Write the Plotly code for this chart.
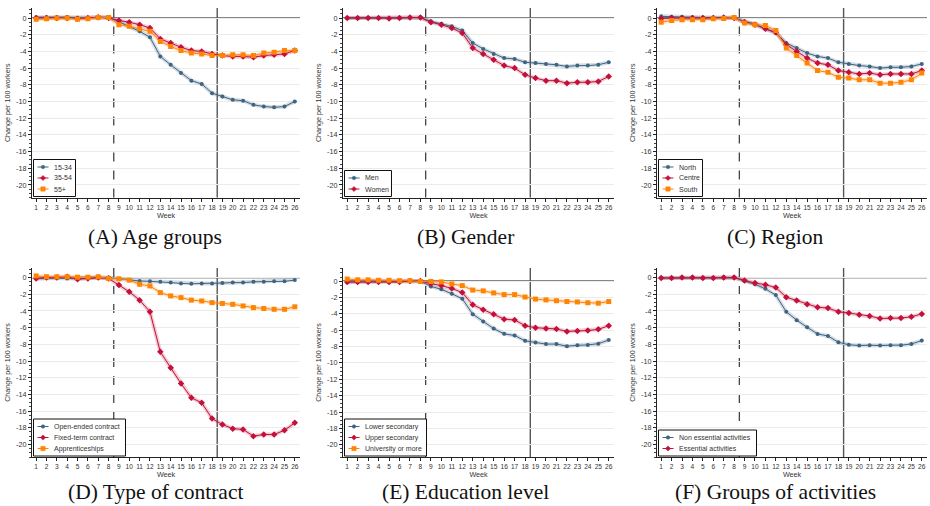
import plotly.graph_objects as go

weeks = list(range(1, 27))

# (A) Age groups
age_15_34 = [0.1, 0.1, 0.1, 0.1, 0.0, 0.0, 0.1, 0.1, -0.45, -1.0, -1.6, -2.3, -4.6, -5.6, -6.6, -7.5, -7.9, -9.0, -9.4, -9.8, -9.9, -10.4, -10.6, -10.7, -10.6, -10.0]
age_35_54 = [0.0, 0.0, 0.0, 0.0, -0.1, 0.0, 0.1, 0.0, -0.3, -0.5, -0.8, -1.2, -2.5, -3.0, -3.5, -3.9, -4.0, -4.3, -4.5, -4.6, -4.6, -4.7, -4.5, -4.4, -4.3, -3.9]
age_55p = [-0.15, -0.1, 0.0, 0.0, -0.15, -0.1, 0.05, 0.05, -0.8, -1.0, -1.3, -1.6, -2.8, -3.4, -3.9, -4.2, -4.3, -4.5, -4.5, -4.4, -4.4, -4.5, -4.2, -4.1, -3.9, -3.9]

# (B) Gender
men = [0.0, 0.0, 0.0, 0.0, -0.05, 0.0, 0.05, 0.05, -0.4, -0.7, -1.0, -1.5, -3.0, -3.7, -4.3, -4.8, -4.9, -5.3, -5.4, -5.5, -5.6, -5.8, -5.7, -5.7, -5.6, -5.3]
women = [0.0, 0.0, 0.0, 0.0, -0.05, 0.0, 0.05, 0.05, -0.5, -0.8, -1.2, -1.8, -3.6, -4.3, -5.0, -5.7, -6.0, -6.8, -7.2, -7.5, -7.5, -7.8, -7.7, -7.7, -7.6, -7.0]

# (C) Region
north = [0.2, 0.15, 0.15, 0.1, 0.05, 0.05, 0.05, 0.05, -0.4, -0.7, -1.3, -1.8, -3.0, -3.6, -4.2, -4.6, -4.8, -5.3, -5.5, -5.7, -5.8, -6.0, -5.9, -5.9, -5.8, -5.5]
centre = [-0.05, 0.0, 0.0, 0.0, 0.0, 0.0, 0.05, 0.0, -0.5, -0.8, -1.3, -1.7, -3.2, -4.0, -4.8, -5.4, -5.6, -6.3, -6.5, -6.7, -6.6, -6.8, -6.7, -6.7, -6.7, -6.3]
south = [-0.5, -0.3, -0.2, -0.2, -0.2, -0.1, -0.05, 0.05, -0.6, -0.8, -0.9, -1.5, -3.6, -4.5, -5.4, -6.3, -6.5, -7.1, -7.2, -7.4, -7.4, -7.8, -7.8, -7.7, -7.4, -6.6]

# (D) Type of contract
open_ended = [-0.1, -0.05, -0.05, -0.1, -0.1, -0.1, 0.0, 0.0, -0.15, -0.3, -0.4, -0.45, -0.5, -0.6, -0.7, -0.75, -0.7, -0.7, -0.65, -0.6, -0.6, -0.5, -0.5, -0.45, -0.45, -0.3]
fixed_term = [-0.1, 0.0, 0.0, 0.1, -0.2, -0.1, 0.0, -0.1, -0.9, -1.7, -2.7, -4.1, -8.9, -10.8, -12.7, -14.4, -15.0, -16.9, -17.6, -18.1, -18.2, -19.0, -18.8, -18.8, -18.3, -17.4]
apprentices = [0.2, 0.1, 0.1, 0.1, 0.05, 0.05, 0.1, -0.1, -0.15, -0.3, -0.8, -1.0, -1.8, -2.2, -2.4, -2.7, -2.8, -3.0, -3.1, -3.2, -3.4, -3.6, -3.7, -3.8, -3.8, -3.5]

# (E) Education level
lower_sec = [-0.1, -0.1, -0.1, -0.1, -0.1, -0.1, 0.0, 0.0, -0.65, -1.0, -1.55, -2.15, -4.05, -4.95, -5.8, -6.45, -6.65, -7.3, -7.5, -7.7, -7.7, -7.95, -7.85, -7.8, -7.65, -7.2]
upper_sec = [-0.1, -0.1, -0.1, -0.1, -0.1, -0.1, 0.0, 0.0, -0.3, -0.55, -0.9, -1.4, -2.9, -3.5, -4.05, -4.65, -4.75, -5.45, -5.7, -5.8, -5.85, -6.15, -6.1, -6.05, -5.9, -5.45]
university = [0.25, 0.15, 0.15, 0.1, 0.1, 0.05, 0.05, -0.05, -0.05, -0.1, -0.35, -0.55, -1.1, -1.2, -1.45, -1.65, -1.65, -1.95, -2.2, -2.3, -2.4, -2.5, -2.55, -2.65, -2.7, -2.5]

# (F) Groups of activities
non_essential = [-0.05, -0.05, 0.0, 0.0, -0.05, -0.05, 0.0, 0.0, -0.4, -0.8, -1.35, -2.1, -4.1, -5.1, -5.95, -6.75, -7.0, -7.75, -8.05, -8.15, -8.1, -8.15, -8.1, -8.1, -7.95, -7.55]
essential = [-0.05, -0.05, 0.0, 0.0, -0.05, -0.05, 0.0, 0.0, -0.35, -0.65, -0.85, -1.2, -2.35, -2.75, -3.2, -3.55, -3.65, -4.1, -4.25, -4.45, -4.6, -4.9, -4.85, -4.85, -4.7, -4.35]

y_ticks = [0, -2, -4, -6, -8, -10, -12, -14, -16, -18, -20]
y_tick_text = ["0", "-2", "-4", "-6", "-8", "-10", "-12", "-14", "-16", "-18", "-20"]
captions = ["(A) Age groups", "(B) Gender", "(C) Region",
            "(D) Type of contract", "(E) Education level", "(F) Groups of activities"]

BLUE = "#3e6482"
RED = "#c4103a"
ORANGE = "#ff8405"
BAND = {BLUE: "rgba(62,100,130,0.22)", RED: "rgba(196,16,58,0.22)", ORANGE: "rgba(255,132,5,0.22)"}
STYLE = [(BLUE, "circle", 4), (RED, "diamond", 5), (ORANGE, "square", 5)]

panels = [
    [("15-34", age_15_34), ("35-54", age_35_54), ("55+", age_55p)],
    [("Men", men), ("Women", women)],
    [("North", north), ("Centre", centre), ("South", south)],
    [("Open-ended contract", open_ended), ("Fixed-term contract", fixed_term), ("Apprenticeships", apprentices)],
    [("Lower secondary", lower_sec), ("Upper secondary", upper_sec), ("University or more", university)],
    [("Non essential activities", non_essential), ("Essential activities", essential)],
]

W, H = 930, 506
col_px = [(32, 300), (343, 614), (657, 927)]
row_px = [(8, 197.5), (268, 457)]
y_top = [1.2, 1.2, 1.2, 1.15, 1.6, 1.15]
legend_w = [42, 47, 44, 92, 82, 98]
cap_y = [237, 492]
cap_x = [155, 465, 775]


def px(x):
    return x / W


def py(y):
    return 1 - y / H


fig = go.Figure()
layout = dict(width=W, height=H, margin=dict(l=0, r=0, t=0, b=0),
              paper_bgcolor="white", plot_bgcolor="white",
              font=dict(family="Liberation Sans, Arial, sans-serif", color="#222"),
              showlegend=False)
shapes = []
annotations = []

for p, series in enumerate(panels):
    r, c = divmod(p, 3)
    k = p + 1
    xa = "x" if k == 1 else f"x{k}"
    ya = "y" if k == 1 else f"y{k}"
    for i, (name, vals) in enumerate(series):
        color, sym, size = STYLE[i]
        fig.add_trace(go.Scatter(x=weeks, y=vals, mode="lines", xaxis=xa, yaxis=ya,
                                 line=dict(color=BAND[color], width=4),
                                 showlegend=False, hoverinfo="skip"))
    for i, (name, vals) in enumerate(series):
        color, sym, size = STYLE[i]
        fig.add_trace(go.Scatter(x=weeks, y=vals, mode="lines+markers", name=name,
                                 xaxis=xa, yaxis=ya,
                                 line=dict(color=color, width=1),
                                 marker=dict(color=color, symbol=sym, size=size)))
    x0, x1 = col_px[c]
    t0, t1 = row_px[r]
    xd = [x0 / W, x1 / W]
    yd = [1 - t1 / H, 1 - t0 / H]
    xkey = "xaxis" if k == 1 else f"xaxis{k}"
    ykey = "yaxis" if k == 1 else f"yaxis{k}"
    layout[xkey] = dict(domain=xd, anchor=ya, range=[0.6, 26.5],
                        tickmode="array", tickvals=weeks, ticktext=[str(w) for w in weeks],
                        tickangle=0,
                        ticks="outside", ticklen=3, tickwidth=1, tickcolor="#222",
                        showline=True, linecolor="#222", linewidth=1.2,
                        showgrid=False, zeroline=False,
                        tickfont=dict(size=6.6, color="#333"),
                        title=dict(text="Week", font=dict(size=7.2, color="#333"), standoff=1))
    layout[ykey] = dict(domain=yd, anchor=xa, range=[-21.5, y_top[p]],
                        tickmode="array", tickvals=y_ticks, ticktext=y_tick_text,
                        ticks="outside", ticklen=3, tickwidth=1, tickcolor="#222",
                        minor=dict(ticks="outside", ticklen=1.5, dtick=0.5, tickcolor="#444", showgrid=False),
                        showline=True, linecolor="#222", linewidth=1.2,
                        showgrid=True, gridcolor="#ebebeb", gridwidth=1, zeroline=False,
                        tickfont=dict(size=7.2, color="#333"),
                        title=dict(text="Change per 100 workers", font=dict(size=7.2, color="#333"), standoff=4))
    # zero line and event lines
    shapes.append(dict(type="line", xref=f"{xa} domain", yref=ya, x0=0, x1=1, y0=0, y1=0,
                       line=dict(color="#111", width=1.2), layer="below"))
    shapes.append(dict(type="line", xref=xa, yref=f"{ya} domain", x0=8.5, x1=8.5, y0=0, y1=1,
                       line=dict(color="#444", width=1.3, dash="dash"), layer="below"))
    shapes.append(dict(type="line", xref=xa, yref=f"{ya} domain", x0=18.5, x1=18.5, y0=0, y1=1,
                       line=dict(color="#555", width=1.4), layer="below"))

    # custom compact legend (box, keys, labels)
    n = len(series)
    row_h = 11
    bl = x0 + 1.5
    bb = t1 - 1
    bt = bb - (n * row_h + 4)
    br = bl + legend_w[p]
    shapes.append(dict(type="rect", xref="paper", yref="paper",
                       x0=px(bl), x1=px(br), y0=py(bb), y1=py(bt),
                       line=dict(color="#111", width=1), fillcolor="white", layer="above"))
    for i, (name, vals) in enumerate(series):
        color, sym, size = STYLE[i]
        cy = bt + 2 + row_h * i + row_h / 2
        shapes.append(dict(type="line", xref="paper", yref="paper",
                           x0=px(bl + 4), x1=px(bl + 15), y0=py(cy), y1=py(cy),
                           line=dict(color=color, width=1), layer="above"))
        mx = bl + 9.5
        if sym == "circle":
            shapes.append(dict(type="circle", xref="paper", yref="paper",
                               x0=px(mx - 1.8), x1=px(mx + 1.8), y0=py(cy + 1.8), y1=py(cy - 1.8),
                               line=dict(color=color, width=0.5), fillcolor=color, layer="above"))
        elif sym == "square":
            shapes.append(dict(type="rect", xref="paper", yref="paper",
                               x0=px(mx - 2.2), x1=px(mx + 2.2), y0=py(cy + 2.2), y1=py(cy - 2.2),
                               line=dict(color=color, width=0.5), fillcolor=color, layer="above"))
        else:
            d = 2.6
            path = (f"M {px(mx - d)} {py(cy)} L {px(mx)} {py(cy - d)} "
                    f"L {px(mx + d)} {py(cy)} L {px(mx)} {py(cy + d)} Z")
            shapes.append(dict(type="path", xref="paper", yref="paper", path=path,
                               line=dict(color=color, width=0.5), fillcolor=color, layer="above"))
        annotations.append(dict(text=name, xref="paper", yref="paper",
                                x=px(bl + 18), y=py(cy), xanchor="left", yanchor="middle",
                                showarrow=False, font=dict(size=7, color="#333")))

    annotations.append(dict(text=captions[p], xref="paper", yref="paper",
                            x=cap_x[c] / W, y=1 - cap_y[r] / H, xanchor="center", yanchor="middle",
                            showarrow=False,
                            font=dict(family="Liberation Serif, DejaVu Serif, serif", size=21.5, color="#111")))

layout["shapes"] = shapes
layout["annotations"] = annotations
fig.update_layout(**layout)
fig.write_html("out.html", config={"displayModeBar": False},
               post_script="document.body.style.margin='0';document.body.style.overflow='hidden';")
